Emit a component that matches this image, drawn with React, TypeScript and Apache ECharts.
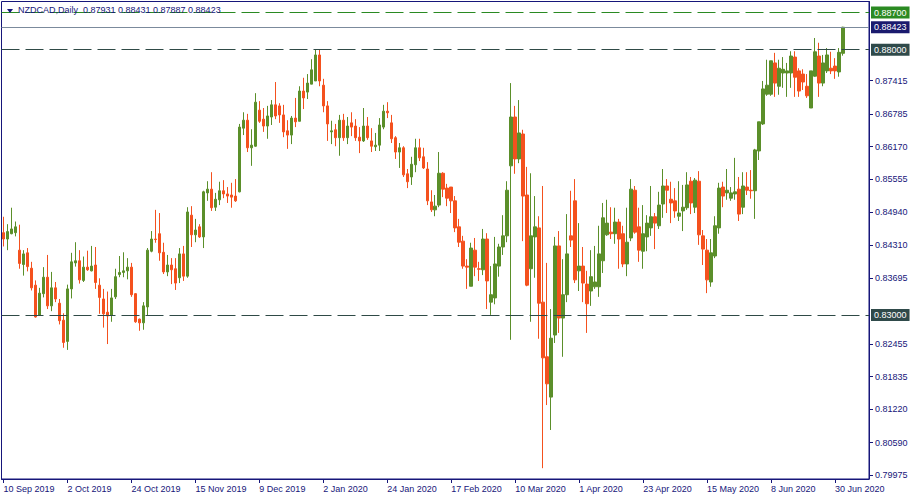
import React, { useEffect, useRef } from "react";
import * as echarts from "echarts";

const FONT = '"Liberation Sans", Arial, sans-serif';
const NAVY = "#16167a";
const BULL = "#5b8f2a";
const BEAR = "#f4511e";

const START_DATE = "2019-09-10";
const HOLIDAYS = ["2019-12-25", "2020-01-01"];
const FUTURE_SLOTS = 6;
const MONTHS = ["Jan", "Feb", "Mar", "Apr", "May", "Jun", "Jul", "Aug", "Sep", "Oct", "Nov", "Dec"];

const TITLE = "NZDCAD,Daily  0.87931 0.88431 0.87887 0.88423";

// [open, close, low, high]
const OHLC: number[][] = [
  [0.8455, 0.8443, 0.8429, 0.8485],
  [0.8443, 0.8457, 0.8422, 0.8471],
  [0.8453, 0.8462, 0.8452, 0.8502],
  [0.8455, 0.8466, 0.8448, 0.8476],
  [0.8422, 0.8397, 0.8387, 0.847],
  [0.8395, 0.8415, 0.8374, 0.8422],
  [0.8417, 0.8391, 0.8382, 0.8426],
  [0.8388, 0.8351, 0.8346, 0.84],
  [0.8356, 0.8296, 0.8295, 0.8365],
  [0.8299, 0.8341, 0.8298, 0.8351],
  [0.834, 0.8371, 0.8333, 0.839],
  [0.8371, 0.8317, 0.8311, 0.8413],
  [0.8317, 0.8351, 0.8307, 0.8381],
  [0.8351, 0.833, 0.8324, 0.8362],
  [0.8322, 0.8289, 0.8282, 0.833],
  [0.829, 0.8248, 0.8238, 0.8303],
  [0.825, 0.8349, 0.8234, 0.8357],
  [0.8349, 0.84, 0.8331, 0.8417],
  [0.8398, 0.8402, 0.8391, 0.8437],
  [0.8402, 0.8366, 0.8359, 0.8422],
  [0.8365, 0.839, 0.8362, 0.841],
  [0.839, 0.8385, 0.8383, 0.8421],
  [0.8383, 0.8392, 0.8382, 0.843],
  [0.8394, 0.8361, 0.8349, 0.8428],
  [0.8356, 0.8333, 0.8302, 0.8369],
  [0.833, 0.8302, 0.8276, 0.8349],
  [0.8305, 0.8298, 0.8245, 0.8344],
  [0.8299, 0.8332, 0.8287, 0.8349],
  [0.8334, 0.8372, 0.833, 0.8387],
  [0.8376, 0.838, 0.8371, 0.8411],
  [0.838, 0.8383, 0.8371, 0.8418],
  [0.8383, 0.839, 0.8367, 0.8407],
  [0.839, 0.8338, 0.8334, 0.8398],
  [0.834, 0.8287, 0.8285, 0.8341],
  [0.8292, 0.8285, 0.827, 0.8293],
  [0.8285, 0.8317, 0.8272, 0.8324],
  [0.8315, 0.8422, 0.8299, 0.8426],
  [0.842, 0.8443, 0.8418, 0.8458],
  [0.8443, 0.8442, 0.8436, 0.8498],
  [0.8453, 0.8417, 0.8402, 0.8492],
  [0.8418, 0.8381, 0.8377, 0.8436],
  [0.8381, 0.8394, 0.8373, 0.8413],
  [0.8394, 0.8385, 0.8358, 0.8407],
  [0.8387, 0.836, 0.8347, 0.8407],
  [0.837, 0.8415, 0.836, 0.8426],
  [0.8415, 0.8373, 0.8364, 0.843],
  [0.8373, 0.8494, 0.837, 0.8503],
  [0.8488, 0.8451, 0.8428, 0.8505],
  [0.8451, 0.846, 0.8437, 0.8481],
  [0.8466, 0.8447, 0.8445, 0.8471],
  [0.8447, 0.8532, 0.8426, 0.8534],
  [0.853, 0.8537, 0.8515, 0.8552],
  [0.8537, 0.8502, 0.8496, 0.8569],
  [0.8503, 0.8518, 0.8496, 0.853],
  [0.8517, 0.8534, 0.8507, 0.8551],
  [0.8534, 0.8528, 0.852, 0.8554],
  [0.8528, 0.8524, 0.8511, 0.8541],
  [0.8526, 0.8522, 0.8502, 0.8549],
  [0.8524, 0.8515, 0.8513, 0.8556],
  [0.8532, 0.8654, 0.8531, 0.866],
  [0.8652, 0.8667, 0.8639, 0.8682],
  [0.8667, 0.8615, 0.8607, 0.8679],
  [0.8615, 0.862, 0.8581, 0.865],
  [0.8618, 0.8701, 0.8617, 0.8718],
  [0.8686, 0.8665, 0.8662, 0.8703],
  [0.8669, 0.8656, 0.8645, 0.869],
  [0.8656, 0.8675, 0.8632, 0.8694],
  [0.8673, 0.8696, 0.8658, 0.8705],
  [0.8696, 0.8675, 0.8669, 0.8739],
  [0.8694, 0.8677, 0.8662, 0.8699],
  [0.8677, 0.8645, 0.8635, 0.8696],
  [0.8647, 0.8639, 0.8613, 0.8667],
  [0.8639, 0.8671, 0.8622, 0.8675],
  [0.8671, 0.8664, 0.8654, 0.8709],
  [0.8665, 0.8722, 0.8665, 0.8731],
  [0.8722, 0.8709, 0.8688, 0.8747],
  [0.872, 0.8737, 0.8707, 0.8754],
  [0.8735, 0.8762, 0.8735, 0.8782],
  [0.8741, 0.879, 0.8741, 0.8801],
  [0.879, 0.8741, 0.8731, 0.8801],
  [0.8733, 0.8694, 0.8682, 0.8745],
  [0.8694, 0.866, 0.8628, 0.8703],
  [0.8645, 0.8647, 0.8622, 0.8666],
  [0.8649, 0.8634, 0.8618, 0.866],
  [0.8634, 0.8667, 0.86, 0.8677],
  [0.8667, 0.8634, 0.8628, 0.8679],
  [0.8634, 0.8656, 0.8622, 0.8673],
  [0.8662, 0.8654, 0.8637, 0.8682],
  [0.8656, 0.8634, 0.8628, 0.8669],
  [0.8635, 0.8628, 0.8605, 0.8654],
  [0.8628, 0.8656, 0.8626, 0.869],
  [0.8656, 0.8634, 0.863, 0.8673],
  [0.8628, 0.8618, 0.8607, 0.8652],
  [0.8617, 0.862, 0.8609, 0.8643],
  [0.862, 0.8658, 0.8609, 0.8671],
  [0.8654, 0.8684, 0.865, 0.8696],
  [0.8684, 0.8681, 0.8671, 0.8701],
  [0.8662, 0.8632, 0.8624, 0.8677],
  [0.8634, 0.8607, 0.8594, 0.8637],
  [0.8607, 0.8615, 0.8577, 0.8624],
  [0.8615, 0.8564, 0.856, 0.8618],
  [0.8566, 0.8551, 0.8539, 0.8575],
  [0.856, 0.8584, 0.8545, 0.8598],
  [0.8583, 0.8615, 0.8569, 0.8632],
  [0.8615, 0.8596, 0.859, 0.8632],
  [0.8598, 0.8577, 0.8575, 0.8615],
  [0.8575, 0.8515, 0.8507, 0.8588],
  [0.8513, 0.8498, 0.8494, 0.8535],
  [0.8498, 0.8505, 0.8486, 0.8526],
  [0.8507, 0.8567, 0.8503, 0.8607],
  [0.8567, 0.8537, 0.8522, 0.8569],
  [0.8539, 0.852, 0.8505, 0.8547],
  [0.8541, 0.8515, 0.8492, 0.8541],
  [0.8515, 0.8464, 0.8456, 0.8524],
  [0.8466, 0.8437, 0.8428, 0.8481],
  [0.8439, 0.8392, 0.8387, 0.8449],
  [0.8392, 0.839, 0.8349, 0.8405],
  [0.8354, 0.8426, 0.8354, 0.8436],
  [0.8422, 0.839, 0.8373, 0.8445],
  [0.8387, 0.8386, 0.8364, 0.84],
  [0.8385, 0.8443, 0.8375, 0.8462],
  [0.8443, 0.8364, 0.8311, 0.8454],
  [0.8324, 0.8338, 0.83, 0.8392],
  [0.8332, 0.8396, 0.832, 0.8447],
  [0.8392, 0.8428, 0.8372, 0.8434],
  [0.8428, 0.8449, 0.8413, 0.8488],
  [0.8449, 0.8535, 0.8437, 0.8552],
  [0.8581, 0.8673, 0.8253, 0.8737],
  [0.8673, 0.8594, 0.8566, 0.8694],
  [0.8594, 0.8643, 0.8586, 0.8705],
  [0.8641, 0.8524, 0.8439, 0.8649],
  [0.8526, 0.8356, 0.8354, 0.8579],
  [0.8387, 0.8449, 0.8287, 0.8567],
  [0.8447, 0.8466, 0.837, 0.8524],
  [0.8464, 0.8322, 0.8255, 0.8486],
  [0.8324, 0.8219, 0.8011, 0.8543],
  [0.8221, 0.817, 0.813, 0.8398],
  [0.8145, 0.8256, 0.8083, 0.8311],
  [0.8262, 0.843, 0.8247, 0.8447],
  [0.843, 0.8294, 0.8266, 0.8458],
  [0.8294, 0.8338, 0.8221, 0.8405],
  [0.8338, 0.8415, 0.8324, 0.849],
  [0.8449, 0.8441, 0.8428, 0.8534],
  [0.8515, 0.8366, 0.836, 0.8556],
  [0.8383, 0.8392, 0.8345, 0.8473],
  [0.8392, 0.836, 0.8324, 0.8428],
  [0.8358, 0.8321, 0.8266, 0.8383],
  [0.8345, 0.8372, 0.8317, 0.8422],
  [0.8353, 0.8362, 0.8349, 0.843],
  [0.8353, 0.8415, 0.8334, 0.8468],
  [0.8402, 0.8483, 0.8379, 0.8511],
  [0.8451, 0.8473, 0.8449, 0.8517],
  [0.8456, 0.8453, 0.8443, 0.8503],
  [0.8453, 0.8475, 0.8434, 0.8502],
  [0.8475, 0.8443, 0.8387, 0.8481],
  [0.8453, 0.8396, 0.839, 0.8468],
  [0.8396, 0.8437, 0.8373, 0.8502],
  [0.8445, 0.8537, 0.8439, 0.8556],
  [0.8535, 0.8456, 0.8453, 0.8543],
  [0.8466, 0.8422, 0.84, 0.8502],
  [0.842, 0.8453, 0.8387, 0.8507],
  [0.8447, 0.8473, 0.842, 0.8488],
  [0.8464, 0.8485, 0.8449, 0.8543],
  [0.8485, 0.8473, 0.8424, 0.8492],
  [0.8468, 0.8507, 0.8462, 0.8532],
  [0.8509, 0.8543, 0.8483, 0.8575],
  [0.8543, 0.8535, 0.8492, 0.8556],
  [0.8518, 0.8511, 0.8473, 0.8551],
  [0.8515, 0.8496, 0.8483, 0.8539],
  [0.8486, 0.8492, 0.8477, 0.8552],
  [0.8496, 0.8503, 0.8458, 0.8545],
  [0.8502, 0.8545, 0.8498, 0.8569],
  [0.8552, 0.8511, 0.849, 0.856],
  [0.8503, 0.8554, 0.8492, 0.8558],
  [0.8552, 0.8451, 0.8432, 0.8571],
  [0.8449, 0.8424, 0.8394, 0.846],
  [0.8422, 0.8366, 0.8341, 0.8443],
  [0.8362, 0.8417, 0.8353, 0.8443],
  [0.8411, 0.8468, 0.8407, 0.8486],
  [0.8464, 0.8539, 0.8453, 0.8549],
  [0.8541, 0.8524, 0.8503, 0.8551],
  [0.853, 0.8535, 0.8517, 0.8575],
  [0.852, 0.853, 0.8515, 0.8541],
  [0.8528, 0.8532, 0.8517, 0.8596],
  [0.8537, 0.849, 0.8477, 0.856],
  [0.8503, 0.8543, 0.849, 0.8569],
  [0.8541, 0.8535, 0.8526, 0.8569],
  [0.8535, 0.8534, 0.8519, 0.8573],
  [0.8534, 0.8611, 0.8481, 0.8613],
  [0.8609, 0.8664, 0.8592, 0.8664],
  [0.866, 0.8726, 0.8658, 0.8741],
  [0.8716, 0.8733, 0.8713, 0.8781],
  [0.8716, 0.8779, 0.8713, 0.8779],
  [0.8775, 0.8737, 0.8711, 0.8794],
  [0.8731, 0.8765, 0.8715, 0.8781],
  [0.8756, 0.8763, 0.8728, 0.8786],
  [0.8756, 0.876, 0.8711, 0.8775],
  [0.8756, 0.8788, 0.8728, 0.8797],
  [0.8786, 0.8748, 0.8711, 0.8797],
  [0.876, 0.8722, 0.8711, 0.8765],
  [0.8754, 0.8739, 0.8724, 0.8763],
  [0.8731, 0.8713, 0.8709, 0.8754],
  [0.869, 0.876, 0.869, 0.876],
  [0.875, 0.8796, 0.8749, 0.8822],
  [0.8788, 0.8737, 0.8711, 0.8813],
  [0.8737, 0.8775, 0.8731, 0.879],
  [0.876, 0.879, 0.8756, 0.8803],
  [0.8765, 0.876, 0.8754, 0.8796],
  [0.8769, 0.876, 0.8745, 0.8784],
  [0.8758, 0.8795, 0.8749, 0.8803],
  [0.87931, 0.88423, 0.87887, 0.88431],
];

const PRICE_TICKS = [
  0.87415, 0.86785, 0.8617, 0.85555, 0.8494, 0.8431, 0.83695,
  0.82455, 0.81835, 0.8122, 0.8059, 0.79975,
];

const Y_MIN = 0.79906;
const Y_MAX = 0.88908;

const LEVELS = [
  { value: 0.887, line: "#2a8a22", bg: "#2a8a22", dashed: true },
  { value: 0.88423, line: "#7b8a9c", bg: "#1a1a6e", dashed: false },
  { value: 0.88, line: "#2f4a46", bg: "#2f4a4a", dashed: true },
  { value: 0.83, line: "#2f4a46", bg: "#2f4a4a", dashed: true },
];

function buildCategories(count: number): string[] {
  const out: string[] = [];
  const d = new Date(START_DATE + "T00:00:00Z");
  while (out.length < count) {
    const dow = d.getUTCDay();
    const iso = d.toISOString().slice(0, 10);
    if (dow !== 0 && dow !== 6 && !HOLIDAYS.includes(iso)) out.push(iso);
    d.setUTCDate(d.getUTCDate() + 1);
  }
  return out;
}

function fmtDate(v: string): string {
  const d = new Date(v + "T00:00:00Z");
  return `${d.getUTCDate()} ${MONTHS[d.getUTCMonth()]} ${d.getUTCFullYear()}`;
}

export default function App() {
  const ref = useRef<HTMLDivElement>(null);
  useEffect(() => {
    if (!ref.current) return;
    const chart = echarts.init(ref.current, undefined, { renderer: "svg" });
    const categories = buildCategories(OHLC.length + FUTURE_SLOTS);
    chart.setOption({
      animation: false,
      backgroundColor: "#ffffff",
      textStyle: { fontFamily: FONT },
      title: {
        text: TITLE,
        left: 18,
        top: 5,
        padding: 0,
        textStyle: { fontSize: 9, fontWeight: "normal", color: NAVY, fontFamily: FONT },
      },
      graphic: [
        {
          type: "polygon",
          shape: { points: [[7, 9], [13, 9], [10, 13]] },
          style: { fill: NAVY },
          z: 100,
        },
      ],
      grid: {
        left: 1.5,
        right: 46,
        top: 1.5,
        bottom: 21,
        show: true,
        borderColor: NAVY,
        borderWidth: 1,
        backgroundColor: "transparent",
      },
      xAxis: {
        type: "category",
        data: categories,
        boundaryGap: true,
        axisLine: { show: true, lineStyle: { color: NAVY } },
        axisTick: { show: true, interval: 15, alignWithLabel: true, length: 4, lineStyle: { color: NAVY } },
        axisLabel: {
          interval: 15,
          formatter: (v: string) => fmtDate(v),
          align: "left",
          margin: 5,
          color: NAVY,
          fontSize: 9,
          fontFamily: FONT,
        },
        splitLine: { show: false },
      },
      yAxis: {
        type: "value",
        position: "right",
        min: Y_MIN,
        max: Y_MAX,
        axisLine: { show: true, lineStyle: { color: NAVY } },
        axisTick: { show: true, length: 4, customValues: PRICE_TICKS, lineStyle: { color: NAVY } },
        axisLabel: {
          customValues: PRICE_TICKS,
          formatter: (v: number) => v.toFixed(5),
          color: NAVY,
          fontSize: 9,
          fontFamily: FONT,
          margin: 6,
        },
        splitLine: { show: false },
      },
      series: [
        {
          type: "candlestick",
          data: OHLC,
          barWidth: 3,
          itemStyle: {
            color: BULL,
            color0: BEAR,
            borderColor: BULL,
            borderColor0: BEAR,
            borderColorDoji: BULL,
            borderWidth: 1,
          },
          markLine: {
            silent: true,
            symbol: "none",
            precision: 5,
            animation: false,
            data: LEVELS.map((l) => ({
              yAxis: l.value,
              lineStyle: { color: l.line, width: 1, type: l.dashed ? [18, 6] : "solid" },
              label: {
                show: true,
                position: "end",
                distance: 2,
                formatter: l.value.toFixed(5),
                color: "#ffffff",
                backgroundColor: l.bg,
                padding: [2, 3, 1, 3],
                fontSize: 9,
                fontFamily: FONT,
              },
            })),
          },
        },
      ],
    });
    return () => chart.dispose();
  }, []);
  return (
    <div
      ref={ref}
      style={{ position: "fixed", left: 0, top: 0, width: 915, height: 500, background: "#fff" }}
    />
  );
}
